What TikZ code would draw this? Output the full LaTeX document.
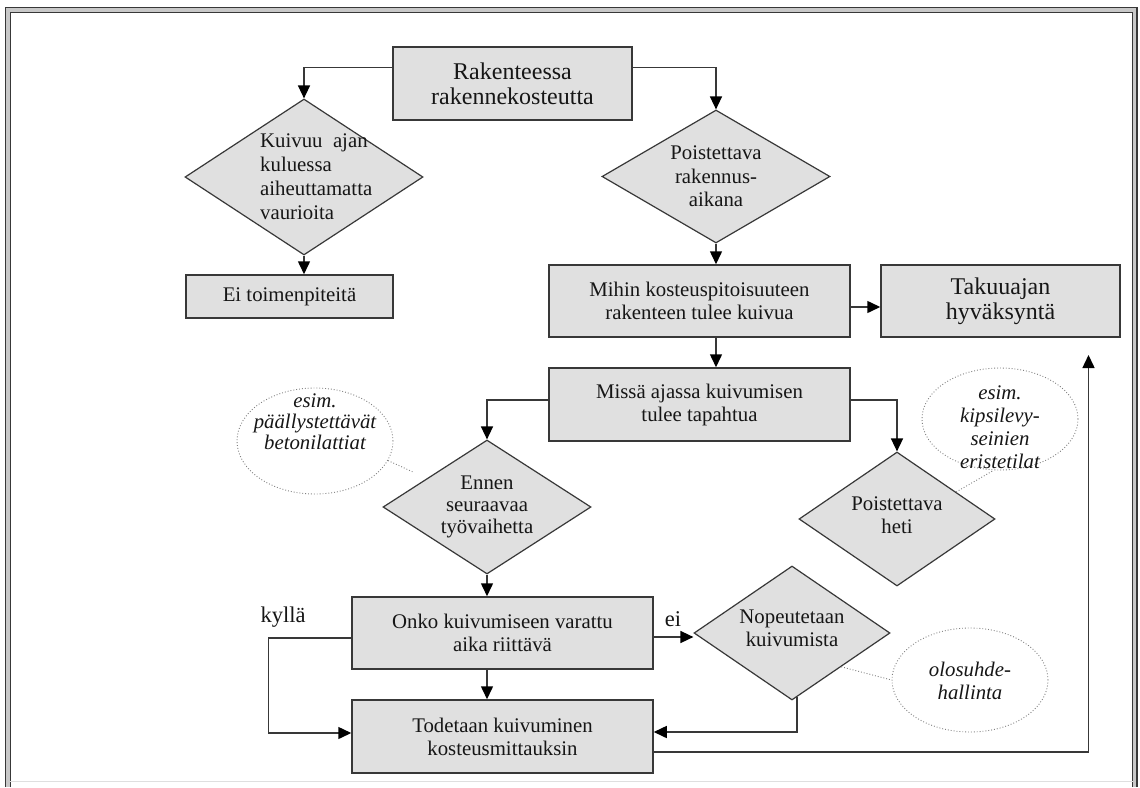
\documentclass[tikz,border=0pt]{standalone}
\usepackage{fontspec}
\setmainfont{Liberation Serif}
\usetikzlibrary{shapes.geometric,arrows.meta,calc}
\definecolor{boxfill}{HTML}{E0E0E0}
\definecolor{edge}{HTML}{383838}
\definecolor{ink}{HTML}{161616}
\definecolor{framegap}{HTML}{C8C8C8}
\begin{document}
\begin{tikzpicture}[x=1pt,y=-1pt,
  box/.style={draw=edge, line width=1.5pt, fill=boxfill, inner sep=0pt, align=center, text=ink, font=\fontsize{20.8}{23}\selectfont},
  bigbox/.style={box, font=\fontsize{24}{25}\selectfont},
  dia/.style={draw=edge, line width=1.2pt, fill=boxfill, diamond, inner sep=0pt},
  dtext/.style={align=center, text=ink, font=\fontsize{20.8}{23.5}\selectfont, inner sep=0pt},
  note/.style={draw=gray, dotted, line width=0.9pt, ellipse, inner sep=0pt},
  ntext/.style={align=center, text=ink, font=\fontsize{20.8}{21}\selectfont\itshape, inner sep=0pt},
  noteline/.style={draw=gray, dotted, line width=0.9pt},
  conn/.style={draw=edge, line width=1.5pt},
  arr/.style={conn, -{Triangle[length=13pt,width=12pt,fill=black,color=black]}},
  lab/.style={text=ink, font=\fontsize{22.5}{24}\selectfont, inner sep=0pt},
]
\useasboundingbox (0,0) rectangle (1140,787);
\fill[white] (0,0) rectangle (1140,787);

% frame
\draw[framegap, line width=4.5pt] (7.8,787) -- (7.8,10) -- (1134.8,10) -- (1134.8,787);
\draw[edge, line width=1.6pt] (5.5,787) -- (5.5,7.5) -- (1137,7.5) -- (1137,787);
\draw[edge, line width=1pt] (10.2,787) -- (10.2,12.3) -- (1132.5,12.3) -- (1132.5,787);
\draw[gray!25, line width=1pt] (10.2,781) -- (1132.5,781);

% boxes
\node[bigbox, minimum width=239pt, minimum height=73pt] (rak) at (512.5,83.5) {Rakenteessa\\rakennekosteutta};
\node[box, minimum width=207pt, minimum height=43pt] (ei1) at (289.5,296.5) {Ei toimenpiteitä};
\node[box, minimum width=301pt, minimum height=72pt] (mihin) at (699.5,301) {Mihin kosteuspitoisuuteen\\rakenteen tulee kuivua};
\node[bigbox, minimum width=239pt, minimum height=72pt] (taku) at (1000.5,301) {Takuuajan\\hyväksyntä};
\node[box, minimum width=301pt, minimum height=73pt] (missa) at (699.5,404.5) {Missä ajassa kuivumisen\\tulee tapahtua};
\node[box, minimum width=301pt, minimum height=72pt] (onko) at (502.5,633) {Onko kuivumiseen varattu\\aika riittävä};
\node[box, minimum width=301pt, minimum height=73pt] (tod) at (502.5,736.5) {Todetaan kuivuminen\\kosteusmittauksin};

% diamonds
\node[dia, minimum width=238pt, minimum height=156pt] (d1) at (304,177) {};
\node[dtext, align=left, anchor=west, font=\fontsize{20.8}{24}\selectfont] (d1t) at (260,176.5) {Kuivuu\ \ ajan\\kuluessa\\aiheuttamatta\\vaurioita};
\node[dia, minimum width=228pt, minimum height=133pt] (d2) at (716,176.5) {};
\node[dtext] (d2t) at (716,176.5) {Poistettava\\rakennus-\\aikana};
\node[dia, minimum width=208pt, minimum height=134pt] (d3) at (487,507) {};
\node[dtext, font=\fontsize{20.8}{22}\selectfont] (d3t) at (487,507) {Ennen\\seuraavaa\\työvaihetta};
\node[dia, minimum width=196pt, minimum height=134pt] (d4) at (897,519) {};
\node[dtext] (d4t) at (897,515) {Poistettava\\heti};
\node[dia, minimum width=196pt, minimum height=134pt] (d5) at (792,633) {};
\node[dtext] (d5t) at (792,628.5) {Nopeutetaan\\kuivumista};

% notes
\node[note, minimum width=156pt, minimum height=106pt] (e1) at (315,441) {};
\node[ntext] (e1t) at (315,422) {esim.\\päällystettävät\\betonilattiat};
\node[note, minimum width=156pt, minimum height=102pt] (e2) at (1000,419) {};
\node[ntext, font=\fontsize{20.8}{23}\selectfont\itshape] (e2t) at (1000,427) {esim.\\kipsilevy-\\seinien\\eristetilat};
\node[note, minimum width=156pt, minimum height=104pt] (e3) at (970,680) {};
\node[ntext, font=\fontsize{20.8}{23}\selectfont\itshape] (e3t) at (970,681) {olosuhde-\\hallinta};

\coordinate (e1end) at (413,472);
\draw[noteline] (e1.-15) -- (e1end);
\draw[noteline] ($(d4.north)!0.6!(d4.east)$) -- (e2.-97);
\draw[noteline] ($(d5.east)!0.5!(d5.south)$) -- (e3.west);

% labels
\node[lab] (kylla) at (283,617) {kyllä};
\node[lab] (ei) at (673,619) {ei};

% connectors
\draw[arr] ([yshift=-21pt]rak.north west) -| (d1.north);
\draw[arr] ([yshift=-21pt]rak.north east) -| (d2.north);
\draw[arr] (d1.south) -- (d1.south |- ei1.north);
\draw[arr] (d2.south) -- (d2.south |- mihin.north);
\draw[arr] ([yshift=-6pt]mihin.east) -- ([yshift=-6pt]mihin.east -| taku.west);
\draw[arr] (d2.south |- mihin.south) -- (d2.south |- missa.north);
\draw[arr] ([yshift=4.5pt]missa.west) -| (d3.north);
\draw[arr] ([yshift=4.5pt]missa.east) -| (d4.north);
\draw[arr] (d3.south) -- (d3.south |- onko.north);
\draw[arr] (d3.south |- onko.south) -- (d3.south |- tod.north);
\draw[arr] ([yshift=-5pt]onko.west) -- ++(-83,0) |- ([yshift=3.5pt]tod.west);
\draw[arr] ([yshift=-4pt]onko.east) -- ([yshift=-4pt]onko.east -| d5.west);
\draw[arr] ([xshift=5pt,yshift=3.4pt]d5.south) |- ([yshift=4.5pt]tod.east);
\coordinate (uptip) at (1088.5,355);
\draw[arr] ([yshift=-15.5pt]tod.east) -| (uptip);
\end{tikzpicture}
\end{document}
